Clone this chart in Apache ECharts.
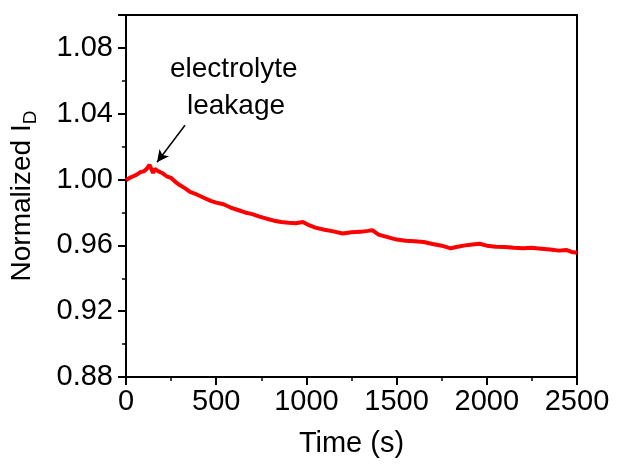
<!DOCTYPE html>
<html>
<head>
<meta charset="utf-8">
<script src="https://cdn.jsdelivr.net/npm/echarts@6/dist/echarts.min.js"></script>
<style>
  html, body { margin: 0; padding: 0; background: #fff; }
  #main { width: 617px; height: 464px; }
</style>
</head>
<body>
<div id="main"></div>
<script>
// time (s)
const timeS = [0, 20, 40, 60, 80, 100, 115, 130, 140, 150, 160, 180, 200, 225, 250, 275, 300, 330, 355, 380,
  410, 440, 470, 500, 540, 580, 620, 660, 700, 740, 780, 820, 860, 900, 940, 980, 1010, 1050, 1100, 1150,
  1200, 1250, 1300, 1340, 1365, 1400, 1450, 1500, 1550, 1600, 1650, 1700, 1750, 1800, 1830, 1880, 1920, 1960,
  2000, 2050, 2100, 2150, 2200, 2250, 2300, 2350, 2400, 2440, 2470, 2500];
// normalized drain current
const normId = [0.9995, 1.0010, 1.0020, 1.0030, 1.0045, 1.0050, 1.0065, 1.0090, 1.0080, 1.0040, 1.0065, 1.0050,
  1.0040, 1.0020, 1.0010, 0.9985, 0.9965, 0.9945, 0.9925, 0.9915, 0.9900, 0.9885, 0.9870, 0.9860, 0.9850,
  0.9830, 0.9815, 0.9800, 0.9790, 0.9775, 0.9762, 0.9750, 0.9742, 0.9738, 0.9735, 0.9742, 0.9725, 0.9708,
  0.9695, 0.9685, 0.9672, 0.9680, 0.9682, 0.9688, 0.9692, 0.9665, 0.9650, 0.9635, 0.9628, 0.9625, 0.9620,
  0.9608, 0.9598, 0.9582, 0.9590, 0.9600, 0.9605, 0.9610, 0.9598, 0.9592, 0.9590, 0.9585, 0.9582, 0.9585,
  0.9580, 0.9575, 0.9568, 0.9572, 0.9560, 0.9555];

// arrow of the annotation: [tail, head]
const arrowPts = [[327, 1.033], [172, 1.0105]];

const chart = echarts.init(document.getElementById('main'));

const font = 'Liberation Sans, Arial, sans-serif';

chart.setOption({
  animation: false,
  grid: {
    left: 126, right: 40, top: 15, bottom: 87,
    outerBoundsMode: 'none',
    containLabel: false,
    show: true, borderColor: '#000', borderWidth: 2
  },
  xAxis: {
    type: 'value',
    min: 0, max: 2500, interval: 500,
    name: 'Time (s)',
    nameLocation: 'middle',
    nameGap: 52,
    nameTextStyle: { color: '#000', fontSize: 29, fontFamily: font },
    axisLine: { lineStyle: { color: '#000', width: 2 } },
    axisTick: { inside: false, length: 8, lineStyle: { color: '#000', width: 2 } },
    minorTick: { show: true, splitNumber: 2, length: 4, lineStyle: { color: '#000', width: 1.5 } },
    axisLabel: { color: '#000', fontSize: 29, fontFamily: font, margin: 10, formatter: v => String(v) },
    splitLine: { show: false }
  },
  yAxis: {
    type: 'value',
    min: 0.88, max: 1.10, interval: 0.04,
    name: 'Normalized I{sub|D}',
    nameLocation: 'middle',
    nameGap: 86,
    nameTextStyle: {
      color: '#000', fontSize: 28, fontFamily: font,
      rich: { sub: { fontSize: 19, fontFamily: font, color: '#000', verticalAlign: 'bottom', padding: [16, 0, 0, 0] } }
    },
    axisLine: { lineStyle: { color: '#000', width: 2 } },
    axisTick: { inside: false, length: 8, lineStyle: { color: '#000', width: 2 } },
    minorTick: { show: true, splitNumber: 2, length: 4, lineStyle: { color: '#000', width: 1.5 } },
    axisLabel: {
      color: '#000', fontSize: 29, fontFamily: font, margin: 13,
      showMaxLabel: false,
      formatter: v => v.toFixed(2)
    },
    splitLine: { show: false }
  },
  series: [{
    type: 'line',
    data: timeS.map((t, i) => [t, normId[i]]),
    showSymbol: false,
    lineStyle: { color: '#ff0000', width: 4 },
    z: 3,
    markLine: {
      silent: true,
      symbol: ['none', 'arrow'],
      symbolSize: [9, 12],
      label: { show: false },
      lineStyle: { color: '#000', width: 1.5, type: 'solid' },
      data: [[{ coord: arrowPts[0] }, { coord: arrowPts[1] }]]
    }
  }],
  graphic: [
    { type: 'text', left: 170, top: 55, style: { text: 'electrolyte', fontSize: 28, fontFamily: font, fill: '#000' } },
    { type: 'text', left: 187, top: 92, style: { text: 'leakage', fontSize: 28, fontFamily: font, fill: '#000' } }
  ]
});
</script>
</body>
</html>
